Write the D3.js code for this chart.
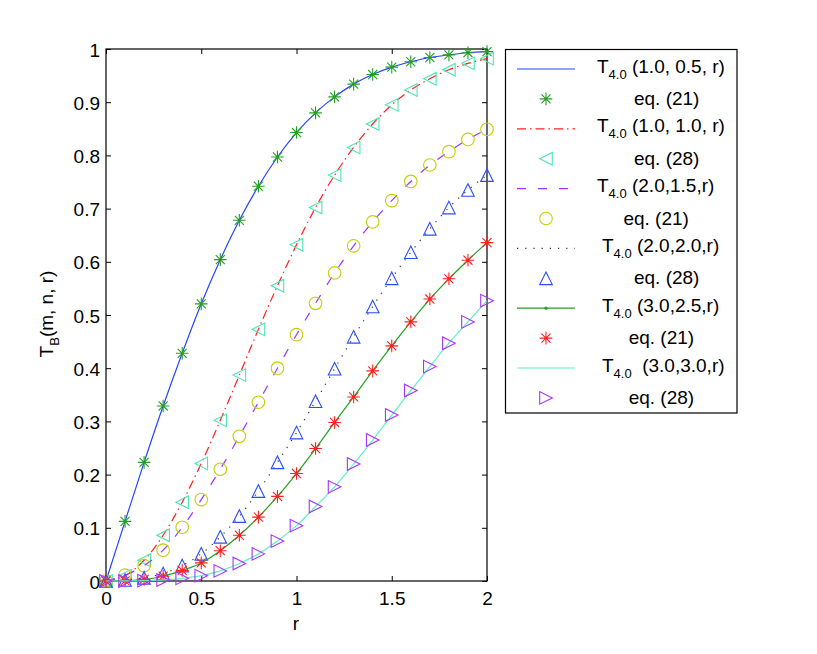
<!DOCTYPE html>
<html>
<head>
<meta charset="utf-8">
<script src="https://cdn.jsdelivr.net/npm/d3@7"></script>
<style>
  body { margin: 0; background: #fff; }
  text { font-family: "Liberation Sans", Arial, sans-serif; fill: #000; }
  .pre { white-space: pre; }
</style>
</head>
<body>
<div id="chart"></div>
<script>
// r values and the curves
var rVals = [0, 0.1, 0.2, 0.3, 0.4, 0.5, 0.6, 0.7, 0.8, 0.9, 1.0,
             1.1, 1.2, 1.3, 1.4, 1.5, 1.6, 1.7, 1.8, 1.9, 2.0];

var t10_05 = [0, 0.112, 0.223, 0.329, 0.428, 0.521, 0.604, 0.678, 0.742, 0.797, 0.843,
              0.880, 0.910, 0.934, 0.952, 0.966, 0.976, 0.984, 0.989, 0.993, 0.995];
var t10_10 = [0, 0.010, 0.039, 0.086, 0.148, 0.221, 0.302, 0.387, 0.473, 0.555, 0.632,
              0.702, 0.763, 0.815, 0.859, 0.895, 0.923, 0.944, 0.961, 0.973, 0.982];
var t20_15 = [0, 0.011, 0.029, 0.058, 0.101, 0.153, 0.210, 0.272, 0.336, 0.400, 0.463,
              0.522, 0.579, 0.630, 0.675, 0.715, 0.751, 0.782, 0.807, 0.830, 0.849];
var t20_20 = [0, 0.002, 0.006, 0.014, 0.029, 0.051, 0.083, 0.122, 0.169, 0.223, 0.279,
              0.338, 0.399, 0.459, 0.516, 0.569, 0.618, 0.662, 0.702, 0.735, 0.763];
var t30_25 = [0, 0.0003, 0.003, 0.009, 0.020, 0.034, 0.057, 0.086, 0.120, 0.159, 0.202,
              0.249, 0.298, 0.346, 0.395, 0.442, 0.487, 0.530, 0.568, 0.603, 0.636];
var t30_30 = [0, 0.0001, 0.0007, 0.002, 0.005, 0.010, 0.019, 0.033, 0.051, 0.075, 0.104,
              0.140, 0.177, 0.220, 0.265, 0.312, 0.358, 0.403, 0.447, 0.487, 0.527];

var xTicks = [0, 0.5, 1, 1.5, 2];
var yTicks = [0, 0.1, 0.2, 0.3, 0.4, 0.5, 0.6, 0.7, 0.8, 0.9, 1];

var legendLabels = [
  "T_{4.0} (1.0, 0.5, r)", "       eq. (21)",
  "T_{4.0} (1.0, 1.0, r)", "       eq. (28)",
  "T_{4.0} (2.0,1.5,r)",   "     eq. (21)",
  " T_{4.0} (2.0,2.0,r)",  "       eq. (28)",
  " T_{4.0} (3.0,2.5,r)",  "      eq. (21)",
  " T_{4.0}  (3.0,3.0,r)", "      eq. (28)"
];

// drawing order: line, then its markers (same order as the legend)
var entries = [
  {data: t10_05, type: "line", color: "#2545ff", dash: null},
  {data: t10_05, type: "marker", color: "#22a022", marker: "asterisk"},
  {data: t10_10, type: "line", color: "#ff2020", dash: "9,4,1.5,4"},
  {data: t10_10, type: "marker", color: "#4de6b3", marker: "left"},
  {data: t20_15, type: "line", color: "#a033ff", dash: "9,12"},
  {data: t20_15, type: "marker", color: "#bfd100", marker: "circle"},
  {data: t20_20, type: "line", color: "#333", dash: "1.2,7"},
  {data: t20_20, type: "marker", color: "#2a4dff", marker: "up"},
  {data: t30_25, type: "line", color: "#22a022", dash: null, dot: true},
  {data: t30_25, type: "marker", color: "#ff2020", marker: "asterisk"},
  {data: t30_30, type: "line", color: "#5ef0c8", dash: null},
  {data: t30_30, type: "marker", color: "#a633ff", marker: "right"}
];

var svg = d3.select("#chart")
  .append("svg")
    .attr("width", 817)
    .attr("height", 654);

var x = d3.scaleLinear().domain([0, 2]).range([106, 487]);
var y = d3.scaleLinear().domain([0, 1]).range([581, 49]);

// marker shapes, centred on the point
var s = 6.3;
function markerPath(kind) {
  if (kind == "asterisk") {
    var d = "", a = s * 0.72;
    d += "M" + (-s) + ",0L" + s + ",0";
    d += "M0," + (-s) + "L0," + s;
    d += "M" + (-a) + "," + (-a) + "L" + a + "," + a;
    d += "M" + (-a) + "," + a + "L" + a + "," + (-a);
    return d;
  }
  if (kind == "up") return "M0," + (-s) + "L" + s + "," + s + "L" + (-s) + "," + s + "Z";
  if (kind == "left") return "M" + (-s) + ",0L" + s + "," + (-s) + "L" + s + "," + s + "Z";
  if (kind == "right") return "M" + s + ",0L" + (-s) + "," + (-s) + "L" + (-s) + "," + s + "Z";
  return null;
}

function drawMarker(g, kind, color, cx, cy) {
  if (kind == "circle") {
    g.append("circle")
      .attr("cx", cx).attr("cy", cy).attr("r", s)
      .attr("fill", "none").attr("stroke", color).attr("stroke-width", 1.1);
  } else {
    g.append("path")
      .attr("d", markerPath(kind))
      .attr("transform", "translate(" + cx + "," + cy + ")")
      .attr("fill", "none").attr("stroke", color).attr("stroke-width", 1.1);
  }
}

// axes box and ticks
function styleAxis(g) {
  g.select(".domain").remove();
  g.selectAll(".tick line").attr("stroke", "#000");
  g.selectAll("text").attr("font-size", 19).attr("fill", "#000");
}

svg.append("g")
  .attr("transform", "translate(0,581)")
  .call(d3.axisBottom(x).tickValues(xTicks).tickSize(-5).tickFormat(String))
  .call(styleAxis)
  .call(function(g) { g.selectAll(".tick text").attr("y", 24).attr("dy", 0); });
svg.append("g")
  .attr("transform", "translate(0,49)")
  .call(d3.axisTop(x).tickValues(xTicks).tickSize(-5).tickFormat(""))
  .call(styleAxis);
svg.append("g")
  .attr("transform", "translate(106,0)")
  .call(d3.axisLeft(y).tickValues(yTicks).tickSize(-5).tickFormat(String))
  .call(styleAxis)
  .call(function(g) { g.selectAll(".tick text").attr("x", -6).attr("dy", "0.37em"); });
svg.append("g")
  .attr("transform", "translate(487,0)")
  .call(d3.axisRight(y).tickValues(yTicks).tickSize(-5).tickFormat(""))
  .call(styleAxis);

svg.append("rect")
  .attr("x", 106).attr("y", 49)
  .attr("width", 381).attr("height", 532)
  .attr("fill", "none").attr("stroke", "#000").attr("stroke-width", 1.2);

// curves and markers
var line = d3.line()
  .x(function(d, i) { return x(rVals[i]); })
  .y(function(d) { return y(d); })
  .curve(d3.curveMonotoneX);

var plot = svg.append("g");
entries.forEach(function(e) {
  if (e.type == "line") {
    plot.append("path")
      .datum(e.data)
      .attr("fill", "none")
      .attr("stroke", e.color)
      .attr("stroke-width", 1.2)
      .attr("stroke-dasharray", e.dash)
      .attr("d", line);
    if (e.dot) {
      e.data.forEach(function(d, i) {
        plot.append("circle").attr("cx", x(rVals[i])).attr("cy", y(d))
          .attr("r", 1.6).attr("fill", e.color);
      });
    }
  } else {
    e.data.forEach(function(d, i) {
      drawMarker(plot, e.marker, e.color, x(rVals[i]), y(d));
    });
  }
});

// axis labels
svg.append("text")
  .attr("x", 296).attr("y", 630)
  .attr("text-anchor", "middle").attr("font-size", 19)
  .text("r");

var yl = svg.append("text")
  .attr("transform", "translate(53,314) rotate(-90)")
  .attr("text-anchor", "middle").attr("font-size", 19);
yl.append("tspan").text("T");
yl.append("tspan").attr("font-size", 13).attr("dy", 6).text("B");
yl.append("tspan").attr("dy", -6).text("(m, n, r)");

// legend
var lg = svg.append("g");
lg.append("rect")
  .attr("x", 505.5).attr("y", 49.5)
  .attr("width", 231.5).attr("height", 363.5)
  .attr("fill", "#fff").attr("stroke", "#000").attr("stroke-width", 1.2);

entries.forEach(function(e, i) {
  var ry = 69 + i * 29.9;
  if (e.type == "line") {
    lg.append("line")
      .attr("x1", 517).attr("x2", 575).attr("y1", ry).attr("y2", ry)
      .attr("stroke", e.color).attr("stroke-width", 1.2)
      .attr("stroke-dasharray", e.dash);
    if (e.dot) lg.append("circle").attr("cx", 546).attr("cy", ry).attr("r", 1.6).attr("fill", e.color);
  } else {
    drawMarker(lg, e.marker, e.color, 546, ry);
  }

  var label = legendLabels[i];
  var t = lg.append("text")
    .attr("class", "pre")
    .attr("x", 597).attr("font-size", 19);
  var m = label.match(/^(\s*T)_\{([^}]*)\}(.*)$/);
  if (m) {
    t.attr("y", ry + 3.5);
    t.append("tspan").text(m[1]);
    t.append("tspan").attr("font-size", 13).attr("dy", 6).text(m[2]);
    t.append("tspan").attr("dy", -6).text(m[3]);
  } else {
    t.attr("y", ry + 6).text(label);
  }
});
</script>
</body>
</html>
